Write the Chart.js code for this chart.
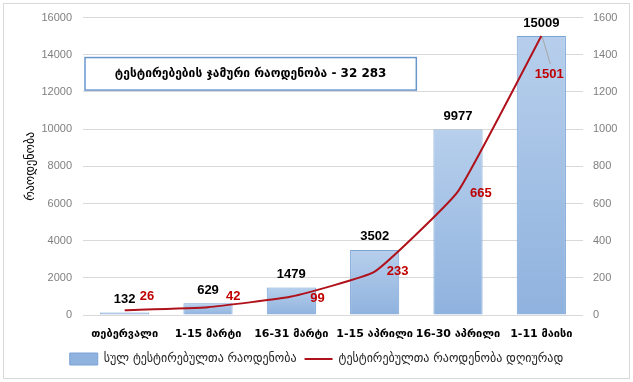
<!DOCTYPE html>
<html>
<head>
<meta charset="utf-8">
<script src="https://cdn.jsdelivr.net/npm/chart.js@4/dist/chart.umd.min.js"></script>
<style>
  html, body { margin: 0; padding: 0; background: #fff; }
  #wrap { width: 633px; height: 382px; }
</style>
</head>
<body>
<div id="wrap"><canvas id="chart" width="633" height="382"></canvas></div>
<script>
const periods = ['თებერვალი', '1-15 მარტი', '16-31 მარტი', '1-15 აპრილი', '16-30 აპრილი', '1-11 მაისი'];
const totalTested = [132, 629, 1479, 3502, 9977, 15009];
const dailyTested = [26, 42, 99, 233, 665, 1501];
const totalLabel = 'სულ ტესტირებულთა რაოდენობა';
const dailyLabel = 'ტესტირებულთა რაოდენობა დღიურად';
const boxText = 'ტესტირებების ჯამური რაოდენობა - 32 283';
const yTitle = 'რაოდენობა';

const FONT = "'Liberation Sans', 'DejaVu Sans', sans-serif";
const GEO = "'DejaVu Sans', sans-serif";
const RED = '#c00000';

// per-bar vertical gradient like the Excel fill
function barFill(ctx) {
    const chart = ctx.chart;
    if (!chart.chartArea || ctx.type !== 'data') return '#a4c2e8';
    const y = chart.scales.y;
    const top = y.getPixelForValue(ctx.raw);
    const bottom = y.getPixelForValue(0);
    const g = chart.ctx.createLinearGradient(0, top, 0, bottom);
    g.addColorStop(0, '#b7cfec');
    g.addColorStop(1, '#8fb2de');
    return g;
}

// offsets of the red daily labels from their points
const dailyOffsets = [[15, -14], [18, -11], [19, 2], [12, 0], [12, 2], [0, 38]];

const extras = {
    id: 'extras',
    beforeDraw(chart) {
        const c = chart.ctx;
        c.save();
        c.strokeStyle = '#d9d9d9';
        c.lineWidth = 1;
        c.strokeRect(3.5, 3.5, chart.width - 7, chart.height - 7);
        c.restore();
    },
    afterDatasetsDraw(chart) {
        const c = chart.ctx;
        const x = chart.scales.x;
        const y = chart.scales.y;
        c.save();
        // bar value labels
        c.font = 'bold 13px ' + FONT;
        c.fillStyle = '#000';
        c.textAlign = 'center';
        c.textBaseline = 'middle';
        chart.getDatasetMeta(0).data.forEach((bar, i) => {
            c.fillText(String(totalTested[i]), bar.x, bar.y - 13);
        });
        // daily labels
        c.fillStyle = RED;
        c.textAlign = 'left';
        chart.getDatasetMeta(1).data.forEach((pt, i) => {
            const [dx, dy] = dailyOffsets[i];
            if (i === dailyTested.length - 1) {
                c.save();
                c.strokeStyle = '#a6a6a6';
                c.lineWidth = 1;
                c.beginPath();
                c.moveTo(pt.x + 1, pt.y + 1);
                c.lineTo(pt.x + 9, pt.y + 28);
                c.stroke();
                c.restore();
                c.textAlign = 'center';
                c.fillText(String(dailyTested[i]), pt.x + 8, pt.y + dy);
            } else {
                c.fillText(String(dailyTested[i]), pt.x + dx, pt.y + dy);
            }
        });
        // summary text box
        const area = chart.chartArea;
        const step = (area.right - area.left) / periods.length;
        const bx = area.left + 2;
        const bxr = x.getPixelForValue(3) + step / 2;
        const by = y.getPixelForValue(13850);
        const byb = y.getPixelForValue(12100);
        c.fillStyle = '#fff';
        c.fillRect(bx, by, bxr - bx, byb - by);
        c.strokeStyle = '#6b96cc';
        c.lineWidth = 1.5;
        c.strokeRect(bx, by, bxr - bx, byb - by);
        c.fillStyle = '#000';
        c.font = 'bold 12px ' + GEO;
        c.textAlign = 'center';
        c.fillText(boxText, (bx + bxr) / 2, (by + byb) / 2);
        c.restore();
    }
};

new Chart(document.getElementById('chart').getContext('2d'), {
    type: 'bar',
    data: {
        labels: periods,
        datasets: [
            {
                type: 'bar',
                label: totalLabel,
                data: totalTested,
                yAxisID: 'y',
                backgroundColor: barFill,
                borderColor: '#7aa3d6',
                borderWidth: 1,
                barPercentage: 0.59,
                categoryPercentage: 1,
                pointStyle: 'rect',
                order: 1
            },
            {
                type: 'line',
                label: dailyLabel,
                data: dailyTested,
                yAxisID: 'y1',
                borderColor: '#b0121c',
                backgroundColor: '#b0121c',
                borderWidth: 2,
                pointRadius: 0,
                pointHoverRadius: 0,
                pointStyle: 'line',
                tension: 0.12,
                fill: false,
                order: 0
            }
        ]
    },
    options: {
        responsive: false,
        animation: false,
        layout: { padding: { left: 10, right: 10, top: 17, bottom: 7 } },
        plugins: {
            legend: {
                position: 'bottom',
                labels: {
                    usePointStyle: true,
                    pointStyleWidth: 28,
                    boxHeight: 12,
                    padding: 8,
                    color: '#262626',
                    font: { family: GEO, size: 12 },
                    sort: (a, b) => a.datasetIndex - b.datasetIndex
                }
            },
            tooltip: { enabled: false }
        },
        scales: {
            x: {
                afterFit(s) { s.height = 30; },
                grid: { display: false },
                border: { display: false },
                ticks: {
                    padding: 5,
                    maxRotation: 0,
                    minRotation: 0,
                    autoSkip: false,
                    color: '#000',
                    font: { family: GEO, size: 11, weight: 'bold' }
                }
            },
            y: {
                position: 'left',
                min: 0,
                max: 16000,
                afterFit(s) { s.width = 73; },
                grid: { color: '#d9d9d9', drawTicks: false },
                border: { display: false },
                ticks: {
                    stepSize: 2000,
                    padding: 11,
                    color: '#7f7f7f',
                    font: { family: FONT, size: 11 },
                    callback: v => String(v)
                },
                title: {
                    display: true,
                    text: yTitle,
                    color: '#000',
                    padding: { top: 14, bottom: 0 },
                    font: { family: GEO, size: 12 }
                }
            },
            y1: {
                position: 'right',
                min: 0,
                max: 1600,
                afterFit(s) { s.width = 40; },
                grid: { display: false, drawTicks: false },
                border: { display: false },
                ticks: {
                    stepSize: 200,
                    padding: 10,
                    color: '#7f7f7f',
                    font: { family: FONT, size: 11 },
                    callback: v => String(v)
                }
            }
        }
    },
    plugins: [extras]
});
</script>
</body>
</html>
